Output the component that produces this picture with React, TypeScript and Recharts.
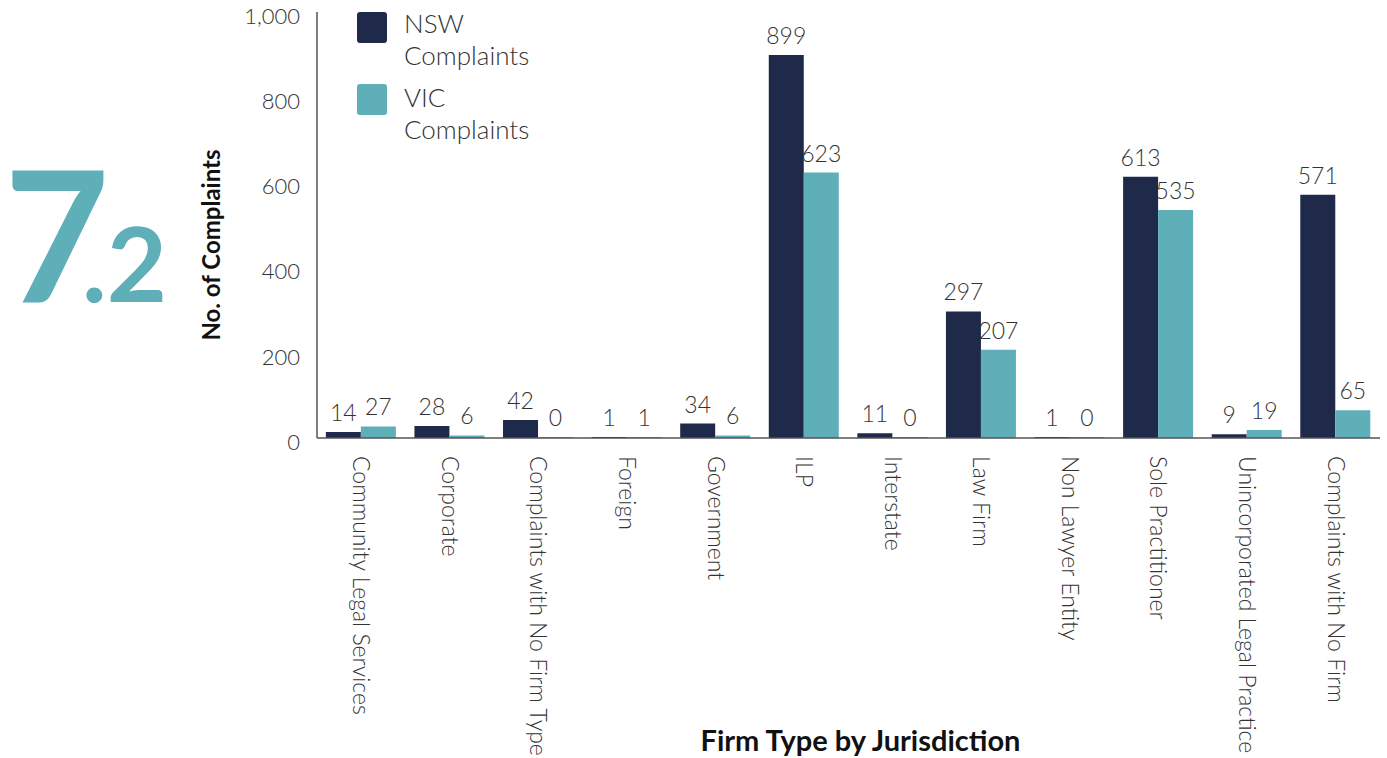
import { BarChart, Bar, XAxis, YAxis, LabelList } from 'recharts'

const firmTypes = [
  'Community Legal Services',
  'Corporate',
  'Complaints with No Firm Type',
  'Foreign',
  'Government',
  'ILP',
  'Interstate',
  'Law Firm',
  'Non Lawyer Entity',
  'Sole Practitioner',
  'Unincorporated Legal Practice',
  'Complaints with No Firm',
]
const nswComplaints = [14, 28, 42, 1, 34, 899, 11, 297, 1, 613, 9, 571]
const vicComplaints = [27, 6, 0, 1, 6, 623, 0, 207, 0, 535, 19, 65]
const yTicks = [0, 200, 400, 600, 800, 1000]

const NAVY = '#1f2a4a'
const TEAL = '#5fafb9'
const FONT = 'Lato, "Open Sans", sans-serif'

const data = firmTypes.map((name, i) => ({
  name,
  nsw: nswComplaints[i],
  vic: vicComplaints[i],
}))

function XTick({ x, y, payload }: any) {
  return (
    <text
      transform={`translate(${x},${y + 10}) rotate(90)`}
      textAnchor="start"
      dy="0.35em"
      fontSize={23}
      fontWeight={300}
      fontFamily={FONT}
      fill="#333"
    >
      {payload.value}
    </text>
  )
}

function ValueLabel({ x, y, width, value }: any) {
  return (
    <text
      x={x + width / 2}
      y={y - 11}
      textAnchor="middle"
      fontSize={23}
      fontWeight={300}
      fontFamily={FONT}
      fill="#333"
    >
      {value}
    </text>
  )
}

const legendItems = [
  { color: NAVY, lines: ['NSW', 'Complaints'], top: 12, textTop: 7 },
  { color: TEAL, lines: ['VIC', 'Complaints'], top: 84, textTop: 81 },
]

export default function App() {
  return (
    <div style={{ position: 'absolute', left: 0, top: 0, width: 1387, height: 758, background: '#fff' }}>
      <svg width={200} height={360} style={{ position: 'absolute', left: 0, top: 0 }}>
        <text x={4} y={302} fontSize={182} fontWeight={700} fontFamily={FONT} fill={TEAL}>
          7
        </text>
        <text x={82} y={302} fontSize={104} fontWeight={700} fontFamily={FONT} fill={TEAL}>
          .2
        </text>
      </svg>
      <BarChart
        width={1387}
        height={758}
        data={data}
        margin={{ top: 12, right: 7, left: 0, bottom: 0 }}
        barCategoryGap="10%"
        barGap={0}
      >
        <XAxis
          dataKey="name"
          interval={0}
          height={320}
          tickLine={false}
          axisLine={{ stroke: '#555', strokeWidth: 1.5 }}
          tick={<XTick />}
          label={{
            value: 'Firm Type by Jurisdiction',
            position: 'insideBottom',
            offset: 7,
            dx: 12,
            fontSize: 29,
            fontWeight: 700,
            fontFamily: FONT,
            fill: '#111',
          }}
        />
        <YAxis
          width={317}
          domain={[0, 1000]}
          ticks={yTicks}
          interval={0}
          tickLine={false}
          tickSize={0}
          tickMargin={17}
          axisLine={{ stroke: '#555', strokeWidth: 1.5 }}
          tickFormatter={(v: number) => v.toLocaleString('en-US')}
          tick={{ fontSize: 22, fontWeight: 300, fontFamily: FONT, fill: '#333', dy: 4 }}
          label={{
            value: 'No. of Complaints',
            angle: -90,
            position: 'insideLeft',
            offset: 211,
            dy: 20,
            fontSize: 24,
            fontWeight: 700,
            fontFamily: FONT,
            fill: '#111',
            style: { textAnchor: 'middle' },
          }}
        />
        <Bar dataKey="nsw" name="NSW Complaints" fill={NAVY} minPointSize={1} isAnimationActive={false}>
          <LabelList dataKey="nsw" content={<ValueLabel />} />
        </Bar>
        <Bar dataKey="vic" name="VIC Complaints" fill={TEAL} minPointSize={1} isAnimationActive={false}>
          <LabelList dataKey="vic" content={<ValueLabel />} />
        </Bar>
      </BarChart>
      {legendItems.map((it) => (
        <div key={it.lines[0]}>
          <div
            style={{
              position: 'absolute',
              left: 357,
              top: it.top,
              width: 30,
              height: 31,
              background: it.color,
              borderRadius: 3,
            }}
          />
          <div
            style={{
              position: 'absolute',
              left: 404,
              top: it.textTop,
              fontFamily: FONT,
              fontWeight: 300,
              fontSize: 26,
              lineHeight: '32px',
              color: '#333',
              whiteSpace: 'nowrap',
            }}
          >
            {it.lines.map((l) => (
              <div key={l}>{l}</div>
            ))}
          </div>
        </div>
      ))}
    </div>
  )
}
